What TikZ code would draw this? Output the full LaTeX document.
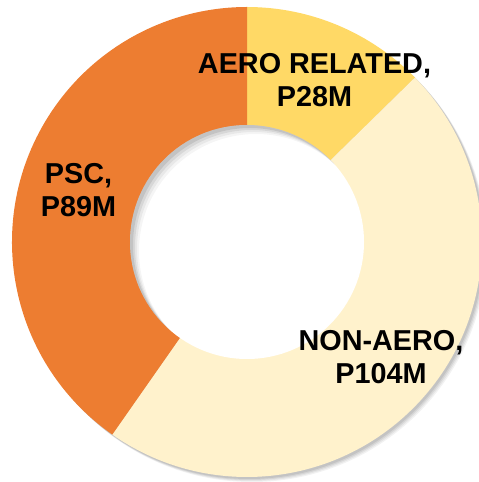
\documentclass[tikz,border=0pt]{standalone}
\usepackage{fontspec}
\setmainfont{Liberation Sans}
\usetikzlibrary{calc}
\definecolor{pscorange}{HTML}{ED7D31}
\definecolor{aeroyellow}{HTML}{FFD966}
\definecolor{nonaerocream}{HTML}{FFF2CC}
\begin{document}
\begin{tikzpicture}[x=1pt,y=1pt,
  lbl/.style={font=\fontsize{28.8}{33}\selectfont\bfseries, align=center, inner sep=0pt, text=black}]
\useasboundingbox (0,0) rectangle (479,482);
\clip (0,0) rectangle (479,482);
\coordinate (c) at (247,240);
\def\R{235}
\def\r{117}
% outer soft shadow
\foreach \d/\o in {5/0.05,4/0.06,3/0.07,2/0.08}{
  \fill[black, opacity=\o] ($(c)+(\d,-\d)$) circle[radius=\R];
}
% slices
\fill[aeroyellow] (c) -- ++(90:\R) arc[start angle=90, end angle=44.39, radius=\R] -- cycle;
\fill[nonaerocream] (c) -- ++(44.39:\R) arc[start angle=44.39, end angle=-124.98, radius=\R] -- cycle;
\fill[pscorange] (c) -- ++(-124.98:\R) arc[start angle=-124.98, end angle=-270, radius=\R] -- cycle;
% hole
\fill[white] (c) circle[radius=\r];
% inner shadow
\begin{scope}
  \clip (c) circle[radius=\r];
  \foreach \d/\o in {9/0.04,7/0.05,5/0.07,3/0.09}{
    \fill[black, opacity=\o, even odd rule] ($(c)+(-20,20)$) circle[radius=300] ($(c)+(\d,-\d)$) circle[radius=\r];
  }
\end{scope}
% labels
\node[lbl] (aero) at (314.5,402) {AERO RELATED,\\P28M};
\node[lbl] (psc) at (78.5,292) {PSC,\\P89M};
\node[lbl] (nonaero) at (381,125) {NON-AERO,\\P104M};
\end{tikzpicture}
\end{document}
